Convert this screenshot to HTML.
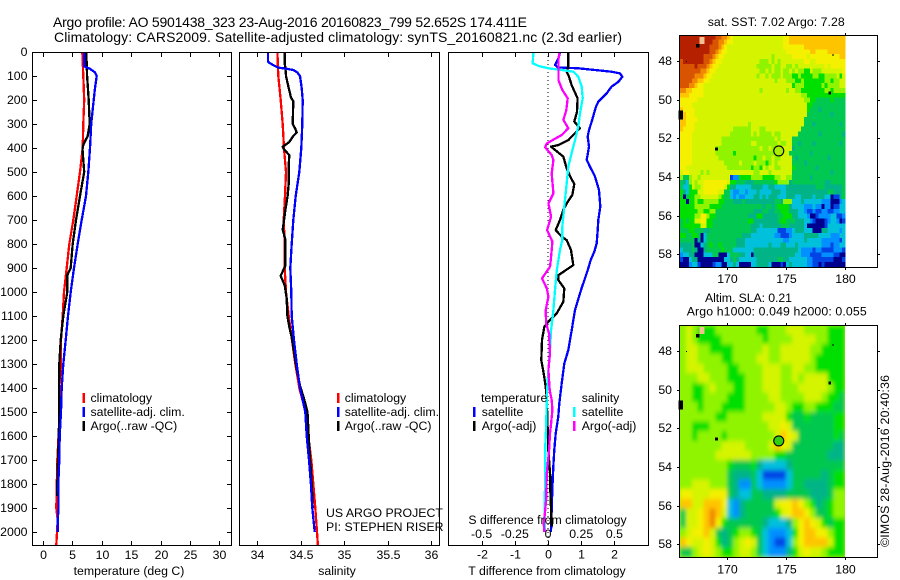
<!DOCTYPE html>
<html lang="en">
<head>
<meta charset="utf-8">
<title>Argo profile 5901438_323</title>
<style>
html,body{margin:0;padding:0;background:#fff;}
svg{display:block;}
text{font-family:"Liberation Sans",sans-serif;font-size:12.3px;fill:#000;}
.title{font-size:14px;}
</style>
</head>
<body>
<svg id="fig" xmlns="http://www.w3.org/2000/svg" width="900" height="580" viewBox="0 0 900 580">
  <defs>
    <filter id="sla-smooth" filterUnits="userSpaceOnUse" x="660" y="305" width="205" height="272">
      <feGaussianBlur stdDeviation="1.8 2.5"/>
    </filter>
    <clipPath id="sla-clip"><rect x="680" y="325" width="165" height="232"/></clipPath>
  </defs>
  <text class="title" x="53" y="27" textLength="474" lengthAdjust="spacing">Argo profile: AO 5901438_323 23-Aug-2016 20160823_799 52.652S 174.411E</text>
  <text class="title" x="54" y="42" textLength="568" lengthAdjust="spacing">Climatology: CARS2009. Satellite-adjusted climatology: synTS_20160821.nc (2.3d earlier)</text>
  <g id="maps"></g>
  <g id="plots"></g>
  <g id="axes"></g>

  <text x="129" y="575" text-anchor="middle">temperature (deg C)</text>
  <text x="337" y="575" text-anchor="middle">salinity</text>
  <text x="547" y="575" text-anchor="middle">T difference from climatology</text>
  <text x="547.5" y="524" text-anchor="middle">S difference from climatology</text>

  <g>
    <rect x="82.5" y="393" width="2.5" height="10" fill="#f00"/>
    <rect x="82.5" y="407" width="2.5" height="10" fill="#00f"/>
    <rect x="82.5" y="421" width="2.5" height="10" fill="#000"/>
    <text x="90.5" y="402">climatology</text>
    <text x="90.5" y="416">satellite-adj. clim.</text>
    <text x="90.5" y="430">Argo(..raw -QC)</text>
  </g>
  <g>
    <rect x="337" y="393" width="2.5" height="10" fill="#f00"/>
    <rect x="337" y="407" width="2.5" height="10" fill="#00f"/>
    <rect x="337" y="421" width="2.5" height="10" fill="#000"/>
    <text x="344.7" y="402">climatology</text>
    <text x="344.7" y="416">satellite-adj. clim.</text>
    <text x="344.7" y="430">Argo(..raw -QC)</text>
  </g>
  <text x="326" y="517">US ARGO PROJECT</text>
  <text x="326" y="531">PI: STEPHEN RISER</text>
  <g>
    <text x="481" y="402">temperature</text>
    <text x="581.7" y="402">salinity</text>
    <rect x="473" y="407" width="2.5" height="10" fill="#00f"/>
    <rect x="473" y="421" width="2.5" height="10" fill="#000"/>
    <rect x="573" y="407" width="2.5" height="10" fill="#0ff"/>
    <rect x="573" y="421" width="2.5" height="10" fill="#f0f"/>
    <text x="481.7" y="416">satellite</text>
    <text x="481.7" y="430">Argo(-adj)</text>
    <text x="581.7" y="416">satellite</text>
    <text x="581.7" y="430">Argo(-adj)</text>
  </g>

  <text x="707.7" y="26" textLength="137" lengthAdjust="spacing">sat. SST: 7.02  Argo: 7.28</text>
  <text x="705" y="302" textLength="87" lengthAdjust="spacing">Altim. SLA: 0.21</text>
  <text x="686.7" y="315.5" textLength="180" lengthAdjust="spacing">Argo h1000: 0.049 h2000: 0.055</text>
  <text transform="translate(889,547) rotate(-90)" textLength="172" lengthAdjust="spacing">©IMOS 28-Aug-2016 20:40:36</text>
</svg>
<script>
/* ---------- tick labels ---------- */
const depthTicks=[0,100,200,300,400,500,600,700,800,900,1000,1100,1200,1300,1400,1500,1600,1700,1800,1900,2000];
const tempTicks=[0,5,10,15,20,25,30];
const salTicks=[34,34.5,35,35.5,36];
const salTickLabels=["34","34.5","35","35.5","36"];
const diffTTicks=[-2,-1,0,1,2];
const diffSTicks=[-0.5,-0.25,0,0.25,0.5];
const diffSTickLabels=["-0.5","-0.25","0","0.25","0.5"];
const lonTicks=[170,175,180];
const latTicks=[48,50,52,54,56,58];

/* ---------- temperature profiles ---------- */
const tempClimDepth=[0,100,200,300,400,500,600,700,800,900,1000,1100,1200,1300,1400,1500,1700,1900,1950,2054];
const tempClim=[6.69,6.86,7.0,6.86,6.75,6.3,5.73,5.16,4.48,4.03,3.57,3.35,3.06,3.06,2.77,2.85,2.44,2.27,2.5,2.27];
const tempArgoDepth=[0,100,200,300,350,380,400,450,500,600,700,800,900,930,1000,1100,1200,1300,1400,1500,1600,1800,1850];
const tempArgo=[7.36,7.5,7.77,7.94,7.6,6.97,6.7,6.86,7.0,6.3,5.61,5.05,4.71,4.13,4.13,3.45,3.01,2.77,2.72,2.77,2.67,2.44,2.44];
const tempSatDepth=[0,60,70,85,100,150,200,300,400,500,600,700,800,900,1000,1100,1200,1300,1400,1500,1600,1700,1800,1900,1950,2000];
const tempSat=[7.03,7.03,8.0,8.84,9.13,8.84,8.62,8.2,8.0,7.7,7.31,6.58,5.9,5.27,4.71,4.25,3.86,3.45,3.18,3.06,2.84,2.77,2.6,2.66,2.5,2.5];

/* ---------- salinity profiles ---------- */
const salClimDepth=[0,100,200,300,400,500,600,700,800,900,1000,1100,1200,1300,1400,1500,1600,1700,1800,1900,2000,2054];
const salClim=[34.234,34.245,34.272,34.295,34.31,34.333,34.322,34.307,34.318,34.318,34.333,34.364,34.402,34.44,34.486,34.56,34.59,34.624,34.647,34.67,34.69,34.70];
const salArgoDepth=[0,50,65,100,150,190,205,300,320,335,350,375,395,405,430,470,550,600,650,700,740,780,890,933,972,1027,1097,1145,1194,1305,1390,1444,1500,1600,1700,1800,1900];
const salArgo=[34.318,34.318,34.326,34.333,34.364,34.391,34.417,34.41,34.44,34.456,34.417,34.371,34.295,34.31,34.371,34.364,34.364,34.352,34.33,34.31,34.295,34.325,34.325,34.272,34.318,34.341,34.348,34.371,34.402,34.448,34.494,34.54,34.58,34.594,34.61,34.63,34.64];
const salSatDepth=[0,40,45,55,65,70,75,85,100,150,200,300,400,500,600,700,800,900,1000,1100,1200,1300,1400,1500,1600,1700,1800,1900,2000];
const salSat=[34.126,34.126,34.141,34.187,34.245,34.341,34.417,34.463,34.494,34.514,34.525,34.521,34.509,34.486,34.445,34.417,34.399,34.383,34.394,34.399,34.425,34.456,34.494,34.555,34.571,34.598,34.62,34.636,34.663];

/* ---------- difference profiles ---------- */
const diffTSatDepth=[0,25,54,64,68,75,82,89,103,124,144,172,207,228,256,290,325,353,394,450,478,519,575,644,700,742,797,832,867,909,992,1075,1159,1242,1298,1381,1464,1519,1589,1658,1728,1825,1908,1999];
const diffTSat=[0.36,0.32,0.213,0.293,0.913,1.416,1.917,2.169,2.239,2.119,1.917,1.767,1.516,1.446,1.386,1.315,1.235,1.195,1.235,1.165,1.265,1.416,1.536,1.576,1.516,1.497,1.466,1.396,1.285,1.195,0.994,0.813,0.713,0.612,0.492,0.412,0.341,0.311,0.231,0.19,0.16,0.13,0.11,0.09];
const diffTArgoDepth=[0,61,82,103,138,193,249,290,318,346,367,388,394,408,436,485,526,550,596,624,658,700,742,769,784,825,888,902,930,950,985,1041,1089,1124,1145,1200,1284,1339,1395,1436,1658,1770,1825,1978];
const diffTArgo=[0.612,0.612,0.562,0.632,0.712,0.893,0.873,0.793,0.963,0.763,0.612,0.311,0.09,0.211,0.462,0.562,0.692,0.793,0.733,0.592,0.462,0.361,0.231,0.412,0.562,0.692,0.763,0.612,0.311,0.311,0.492,0.462,0.261,0.01,-0.11,-0.181,-0.201,-0.131,-0.07,-0.04,0.01,0.07,0.07,0.11];
const diffSSatDepth=[0,47,58,68,75,82,103,144,193,256,311,367,422,478,547,644,728,783,825,909,992,1075,1159,1242,1325,1409,1575,1658,1800,1908,2000];
const diffSSat=[-0.11,-0.115,-0.073,0.003,0.103,0.191,0.228,0.254,0.261,0.241,0.228,0.203,0.178,0.153,0.141,0.123,0.108,0.108,0.09,0.066,0.053,0.041,0.023,0.015,0.003,-0.007,-0.015,-0.022,-0.022,-0.027,-0.022];
const diffSArgoDepth=[0,33,117,158,193,242,283,318,346,381,397,429,450,506,589,631,686,742,790,853,895,943,985,1020,1075,1131,1173,1256,1325,1409,1450,1492,1547,1589,1658,1755,1867,1970,2000];
const diffSArgo=[0.086,0.078,0.078,0.108,0.148,0.138,0.116,0.153,0.103,-0.009,-0.022,0.028,0.041,0.028,0.041,0.003,0.023,-0.007,0.033,0.023,0.015,-0.045,-0.009,0.003,-0.017,-0.014,0.008,0.015,0.003,0.013,0.028,0.033,0.023,0.015,0.008,-0.009,-0.014,-0.032,-0.027];

/* ---------- map data: one character per cell (spaces ignored), palette keys below ---------- */
const mapPaletteKeys="0123456789abcd";
const mapPaletteColors=["#00008f","#0044e6","#0090ff","#00c0dc","#00b488","#00c850","#00e000","#90f400","#d4f400","#f4f000","#ffc400","#f08800","#d85400","#b42000"];
const sstRows=[
"dddddddddd ddccbba988 8888888888 8888899aaa aaaaaaaaaa aaaaaa",
"dddddddddd dccbba9988 8888888888 8888899aaa aaaaaaaaaa aaaaaa",
"dddddddddd cccba98888 8888888888 8888899999 99aaaaaaaa aaaaaa",
"dddddddddd ccba998888 8888888888 8888889999 9999aa9999 aaaaaa",
"ddddddddcc cba9988888 8888888888 8788888899 9998999999 9999aa",
"cdddddddcc ba99888888 8888888777 8787888888 8899889999 999999",
"cccccdcccb a998888888 8888887777 7877887787 8888888889 899999",
"cccccccbba 9988888888 8888888778 7877877878 7766877788 888889",
"cccccbbba9 9888888888 8888887887 8777877766 7666677667 777868",
"ccccbbaa99 8888888888 8888888888 8878887776 6766666667 767788",
"cccbba9988 8888888888 8888888888 8888888867 7766666676 777788",
"bbaa999988 8888888888 8888888788 8888887887 7666666667 767777",
"aaa9999988 8888888888 8888888888 8888888888 8776666666 666666",
"9999998888 8888888888 8888888888 8888888888 8877665555 565555",
"9999888888 8888888888 8888888888 8888888888 8886655555 555555",
"a999988888 8888888888 8888888888 8888888888 8886555455 555555",
"aa99988888 8888888888 8888888888 8888888888 8885555555 545555",
"aa99998888 8888888888 8888888888 8888888888 8855555555 555555",
"aa99988888 8888888888 8887888888 8888888888 8855545555 555545",
"a999988888 8888888877 7777888778 8888888888 8555555555 555555",
"9999888888 8888888777 7777878777 7877888888 5555555455 555554",
"9999888888 8888777777 7777777777 7787888855 5555555555 555555",
"9999888888 8888777777 7777887777 7778778855 4555545555 555545",
"9999888888 8877777777 7777777877 8777888845 5555555555 555555",
"9999888888 8877777767 7777777777 7778888555 5555455555 555555",
"9999888888 8887777777 7777767787 7877888854 5555555555 455555",
"9999888888 8888877777 8777787776 7878888855 5545555555 555555",
"9988888888 8888887777 7777677687 8877888865 5555554555 555555",
"8998888787 8888888888 8888877888 7888888855 5555555555 545555",
"7557887888 8888888122 6666777766 6677887755 5555455555 555555",
"5437878899 9999998665 5544455555 5567777455 5555555554 455555",
"5336877899 9999986443 3333444433 4433334444 4444445554 444445",
"6436668899 9998855322 3323334333 3444334444 4444444444 554445",
"6056677888 8887655323 2233344343 4443334443 3444434443 301145",
"6606676677 7776655544 4544444444 4455477733 3433333322 200023",
"6666677777 6666555555 5555555545 5456666433 3322232202 201133",
"6666667766 7755555555 5555544455 4455666444 3321121122 112233",
"6666677997 6655555555 5554446644 4445566644 3332001222 233112",
"5656688996 6555555555 5556644444 4445665554 4433210001 233201",
"5666666886 6555555555 5555444344 4444555444 4430000001 333333",
"5556655544 5555555555 5555443333 3331112234 4433300044 333323",
"6655665035 5555555555 5444333333 3322111233 3344444333 322233",
"5555504035 5555555554 4433333333 3333322333 3343333322 222213",
"4444500345 6556555554 4433333333 4333443334 3333333322 212233",
"3444540045 5555655533 3333344444 4444444444 3222212211 112221",
"2334400033 3550003555 4433044444 4444444443 3222111122 221100",
"1003440000 0000033454 3333334444 4445544333 3332211111 110001",
"0002331000 0122003343 0000334444 3000103433 3332211010 000000"
];
const slaRows=[
"7876667777 7776677788 87777666",
"7876666777 7777677778 88877666",
"7887766667 7777877888 88776666",
"7887777667 7778877888 88766666",
"7888777766 7777888778 87766666",
"7778877766 6777888778 78888666",
"7766787776 6777888777 88888766",
"7766777766 6777788777 78887665",
"7776777666 6777778876 67766655",
"7777776677 7777888865 56555566",
"7766677777 7777788985 55555566",
"7767777677 7777778a98 55555565",
"7777777888 877778a985 55555544",
"7777778888 8877776655 55555444",
"7777777765 5564333345 55555555",
"7777777754 4453111135 55554566",
"7788877754 2253222235 54444566",
"9988899954 3355444455 55444577",
"aa88aaa932 455555 899a97645677",
"5889aba832 455555 689aa9755677",
"5889ab9655 5555 43 33479a986566",
"7899a85456 7765 32 22369aa99766",
"a988986457 8985 32 11379aaaa866",
"5578987667 8875 32 224689887666"
];
const islandLon=[167.54,166.1,169.15,178.75,179.0,166.6];
const islandLat=[47.2,50.8,52.55,49.65,47.7,48.03];
const islandWidth=[3.5,4.5,3,2.5,2,1];
const islandHeight=[3.5,9,3,3,1,1];
const floatLon=174.411;
const floatLat=52.652;

/* ---------- axis functions ---------- */
const PANEL_TOP=52, PANEL_BOTTOM=545;
function depthY(d){return 52+0.24*d;}
function tempX(t){return 43+5.88*t;}
function salX(s){return 257+87*(s-34);}
function diffTX(t){return 548+33.2*t;}
function diffSX(s){return 548+132.8*s;}
function lonX(l){return 726.7+11.8*(l-170);}
function latOffset(l){return 19.33*(l-48);}

const NS="http://www.w3.org/2000/svg";
const mapsLayer=document.getElementById('maps');
const plotsLayer=document.getElementById('plots');
const axesLayer=document.getElementById('axes');
function mk(parent,tag,attrs,txt){
  const el=document.createElementNS(NS,tag);
  for(const k in attrs){el.setAttribute(k,attrs[k]);}
  if(txt!==undefined){el.textContent=txt;}
  parent.appendChild(el);
  return el;
}

/* ---------- profile lines ---------- */
function drawLine(xFn,values,depths,color,name,width){
  const pts=[];
  for(let i=0;i<values.length;i++){
    pts.push(xFn(values[i]).toFixed(1)+","+depthY(depths[i]).toFixed(1));
  }
  const el=mk(plotsLayer,'polyline',{points:pts.join(" "),fill:"none",stroke:color,"stroke-width":width,"stroke-linejoin":"round","shape-rendering":"crispEdges"});
  
  
}
drawLine(tempX,tempClim,tempClimDepth,"#f00","temperature-climatology-line",2.3);
drawLine(tempX,tempArgo,tempArgoDepth,"#000","temperature-argo-line",2.3);
drawLine(tempX,tempSat,tempSatDepth,"#00f","temperature-satellite-line",2.3);
drawLine(salX,salClim,salClimDepth,"#f00","salinity-climatology-line",2.3);
drawLine(salX,salArgo,salArgoDepth,"#000","salinity-argo-line",2.3);
drawLine(salX,salSat,salSatDepth,"#00f","salinity-satellite-line",2.3);
const zeroLine=mk(plotsLayer,'line',{x1:diffTX(0),x2:diffTX(0),y1:PANEL_TOP,y2:PANEL_BOTTOM,stroke:"#000","stroke-width":1,"stroke-dasharray":"1 3","shape-rendering":"crispEdges"});


drawLine(diffTX,diffTSat,diffTSatDepth,"#00f","t-difference-satellite-line",2.3);
drawLine(diffTX,diffTArgo,diffTArgoDepth,"#000","t-difference-argo-line",2.3);
drawLine(diffSX,diffSSat,diffSSatDepth,"#0ff","s-difference-satellite-line",2.3);
drawLine(diffSX,diffSArgo,diffSArgoDepth,"#f0f","s-difference-argo-line",2.3);

/* ---------- profile panel frames and ticks ---------- */
function drawFrame(x0,x1,y0,y1,name){
  const el=mk(axesLayer,'rect',{x:x0,y:y0,width:x1-x0,height:y1-y0,fill:"none",stroke:"#000","stroke-width":1,"shape-rendering":"crispEdges"});
  
  
}
function drawTick(x1,y1,x2,y2,name){
  const el=mk(axesLayer,'line',{x1:x1,y1:y1,x2:x2,y2:y2,stroke:"#000","stroke-width":1,"shape-rendering":"crispEdges"});
  
  
}
function drawLabel(x,y,anchor,str,name){
  const el=mk(axesLayer,'text',{x:x,y:y,"text-anchor":anchor},str);
  
  
}
drawFrame(32.5,231.5,52.5,545.5,"temperature-panel-frame");
drawFrame(239.5,439.5,52.5,545.5,"salinity-panel-frame");
drawFrame(448.5,648.5,52.5,545.5,"difference-panel-frame");

depthTicks.forEach(function(d){
  const y=Math.round(depthY(d))+0.5;
  drawTick(32.5,y,37,y,"depth-tick-left");
  drawTick(227,y,231.5,y,"depth-tick-right");
  drawLabel(27.5,y+3.5,"end",String(d),"depth-tick-label");
});
tempTicks.forEach(function(t){
  const x=Math.round(tempX(t))+0.5;
  drawTick(x,52.5,x,57,"temperature-tick-top");
  drawTick(x,541,x,545.5,"temperature-tick-bottom");
  drawLabel(x,559,"middle",String(t),"temperature-tick-label");
});
salTicks.forEach(function(s,i){
  const x=Math.round(salX(s))+0.5;
  drawTick(x,52.5,x,57,"salinity-tick-top");
  drawTick(x,541,x,545.5,"salinity-tick-bottom");
  drawLabel(x,559,"middle",salTickLabels[i],"salinity-tick-label");
});
diffTTicks.forEach(function(t){
  const x=Math.round(diffTX(t))+0.5;
  drawTick(x,52.5,x,57,"t-difference-tick-top");
  drawTick(x,541,x,545.5,"t-difference-tick-bottom");
  drawLabel(x,558.5,"middle",String(t),"t-difference-tick-label");
});
diffSTicks.forEach(function(s,i){
  drawLabel(diffSX(s),538,"middle",diffSTickLabels[i],"s-difference-tick-label");
});

/* ---------- maps ---------- */
function drawMap(rows,cols,lat48Y,cellLon,cellLat,name,circleFill,smooth){
  const latTop=46.65, lonLeft=166.04;
  const mapGroup=mk(mapsLayer,'g',{});
  
  
  let cellParent=mapGroup;
  if(smooth){
    const clipWrap=mk(mapGroup,'g',{"clip-path":"url(#sla-clip)"});
    
    
    cellParent=mk(clipWrap,'g',{filter:"url(#sla-smooth)"});
    
    
    const under=mk(cellParent,'rect',{x:665,y:310,width:195,height:262,fill:"#90f400"});
    
    
  }
  for(let r=0;r<rows.length;r++){
    const row=rows[r].replace(/ /g,'');
    for(let c=0;c<cols;c++){
      const key=row.charAt(c);
      const idx=mapPaletteKeys.indexOf(key);
      if(idx<0||key===''){continue;}
      const x=lonX(lonLeft+c*cellLon);
      const y=lat48Y+latOffset(latTop+r*cellLat);
      const cell=mk(cellParent,'rect',{x:x.toFixed(2),y:y.toFixed(2),width:(cellLon*11.8+0.4).toFixed(2),height:(cellLat*19.33+0.4).toFixed(2),fill:mapPaletteColors[idx],"shape-rendering":"crispEdges"});
      
      
    }
  }
  const land=mk(mapGroup,'rect',{x:lonX(167.7),y:lat48Y+latOffset(46.75),width:5,height:7,fill:"#f0c090","shape-rendering":"crispEdges"});
  
  
  islandLon.forEach(function(lon,i){
    const mark=mk(mapGroup,'rect',{x:lonX(lon)-islandWidth[i]/2,y:lat48Y+latOffset(islandLat[i])-islandHeight[i]/2,width:islandWidth[i],height:islandHeight[i],fill:"#000","shape-rendering":"crispEdges"});
    
    
  });
  const dot=mk(mapGroup,'circle',{cx:lonX(floatLon),cy:lat48Y+latOffset(floatLat),r:5,fill:circleFill,stroke:"#000","stroke-width":1.1});
  
  
}
function drawMapAxes(top,bottom,lat48Y,labelY,prefix){
  drawFrame(679.5,877.5,top+0.5,bottom+0.5,prefix+"-map-frame");
  lonTicks.forEach(function(l){
    const x=Math.round(lonX(l))+0.5;
    drawTick(x,top-2,x,top,prefix+"-lon-tick-top");
    drawTick(x,bottom+1,x,bottom+3,prefix+"-lon-tick-bottom");
    drawLabel(x,labelY,"middle",String(l),prefix+"-lon-tick-label");
  });
  latTicks.forEach(function(l){
    const y=Math.round(lat48Y+latOffset(l))+0.5;
    drawTick(677,y,679.5,y,prefix+"-lat-tick-left");
    drawTick(877.5,y,880,y,prefix+"-lat-tick-right");
    drawLabel(672,y+3.5,"end",String(l),prefix+"-lat-tick-label");
  });
}
drawMap(sstRows,56,61,0.25,0.25,"sst-map","#a8f000",false);
drawMap(slaRows,28,351,0.5,0.5,"sla-map","#30d010",true);
drawMapAxes(35,267,61,283,"sst");
drawMapAxes(325,557,351,573.5,"sla");
</script>
</body>
</html>
